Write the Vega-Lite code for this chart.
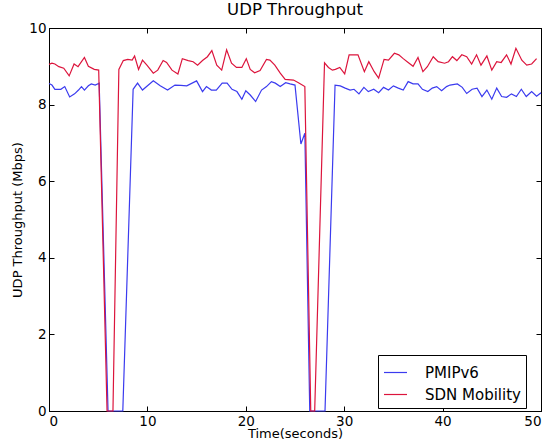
{
  "$schema": "https://vega.github.io/schema/vega-lite/v6.json",
  "width": 492,
  "height": 383,
  "autosize": {"type": "none"},
  "padding": {"left": 49, "top": 28, "right": 10, "bottom": 30},
  "background": "white",
  "title": {"text": "UDP Throughput", "font": "DejaVu Sans", "fontSize": 16.5, "fontWeight": "normal", "color": "black", "offset": 3},
  "config": {
    "view": {"stroke": "black", "strokeWidth": 1},
    "axis": {"grid": false, "domainColor": "black", "tickColor": "black", "labelColor": "black", "titleColor": "black", "labelFont": "DejaVu Sans", "titleFont": "DejaVu Sans", "labelFontSize": 13.5, "titleFontSize": 13, "titleFontWeight": "normal", "tickSize": -5}
  },
  "datasets": {
    "series": [
      {"t": 0, "v": 8.55, "s": "PMIPv6"}, {"t": 0.3, "v": 8.51, "s": "PMIPv6"}, {"t": 0.6, "v": 8.4, "s": "PMIPv6"}, {"t": 1.2, "v": 8.4, "s": "PMIPv6"}, {"t": 1.6, "v": 8.47, "s": "PMIPv6"}, {"t": 2.1, "v": 8.2, "s": "PMIPv6"}, {"t": 2.6, "v": 8.28, "s": "PMIPv6"}, {"t": 3.0, "v": 8.38, "s": "PMIPv6"}, {"t": 3.3, "v": 8.47, "s": "PMIPv6"}, {"t": 3.6, "v": 8.38, "s": "PMIPv6"}, {"t": 4.0, "v": 8.49, "s": "PMIPv6"}, {"t": 4.3, "v": 8.54, "s": "PMIPv6"}, {"t": 4.7, "v": 8.51, "s": "PMIPv6"}, {"t": 5.1, "v": 8.56, "s": "PMIPv6"}, {"t": 6.0, "v": 0, "s": "PMIPv6"}, {"t": 7.5, "v": 0, "s": "PMIPv6"}, {"t": 8.55, "v": 8.4, "s": "PMIPv6"}, {"t": 9.0, "v": 8.56, "s": "PMIPv6"}, {"t": 9.5, "v": 8.38, "s": "PMIPv6"}, {"t": 10.1, "v": 8.51, "s": "PMIPv6"}, {"t": 10.6, "v": 8.62, "s": "PMIPv6"}, {"t": 11.3, "v": 8.49, "s": "PMIPv6"}, {"t": 12.05, "v": 8.38, "s": "PMIPv6"}, {"t": 12.8, "v": 8.51, "s": "PMIPv6"}, {"t": 13.4, "v": 8.5, "s": "PMIPv6"}, {"t": 14.0, "v": 8.49, "s": "PMIPv6"}, {"t": 15.0, "v": 8.62, "s": "PMIPv6"}, {"t": 15.6, "v": 8.34, "s": "PMIPv6"}, {"t": 16.0, "v": 8.47, "s": "PMIPv6"}, {"t": 16.5, "v": 8.38, "s": "PMIPv6"}, {"t": 17.0, "v": 8.38, "s": "PMIPv6"}, {"t": 17.6, "v": 8.56, "s": "PMIPv6"}, {"t": 18.1, "v": 8.56, "s": "PMIPv6"}, {"t": 18.6, "v": 8.4, "s": "PMIPv6"}, {"t": 19.1, "v": 8.34, "s": "PMIPv6"}, {"t": 19.6, "v": 8.14, "s": "PMIPv6"}, {"t": 20.0, "v": 8.36, "s": "PMIPv6"}, {"t": 20.45, "v": 8.25, "s": "PMIPv6"}, {"t": 21.0, "v": 8.08, "s": "PMIPv6"}, {"t": 21.6, "v": 8.38, "s": "PMIPv6"}, {"t": 22.1, "v": 8.47, "s": "PMIPv6"}, {"t": 22.6, "v": 8.6, "s": "PMIPv6"}, {"t": 23.0, "v": 8.56, "s": "PMIPv6"}, {"t": 23.5, "v": 8.47, "s": "PMIPv6"}, {"t": 24.05, "v": 8.57, "s": "PMIPv6"}, {"t": 24.5, "v": 8.54, "s": "PMIPv6"}, {"t": 25.0, "v": 8.51, "s": "PMIPv6"}, {"t": 25.6, "v": 6.97, "s": "PMIPv6"}, {"t": 26.0, "v": 7.25, "s": "PMIPv6"}, {"t": 26.5, "v": 0, "s": "PMIPv6"}, {"t": 28.05, "v": 0, "s": "PMIPv6"}, {"t": 29.07, "v": 8.51, "s": "PMIPv6"}, {"t": 29.6, "v": 8.49, "s": "PMIPv6"}, {"t": 30.1, "v": 8.43, "s": "PMIPv6"}, {"t": 30.6, "v": 8.38, "s": "PMIPv6"}, {"t": 31.0, "v": 8.4, "s": "PMIPv6"}, {"t": 31.5, "v": 8.28, "s": "PMIPv6"}, {"t": 32.0, "v": 8.45, "s": "PMIPv6"}, {"t": 32.45, "v": 8.34, "s": "PMIPv6"}, {"t": 33.0, "v": 8.4, "s": "PMIPv6"}, {"t": 33.5, "v": 8.31, "s": "PMIPv6"}, {"t": 34.0, "v": 8.45, "s": "PMIPv6"}, {"t": 34.5, "v": 8.38, "s": "PMIPv6"}, {"t": 35.0, "v": 8.49, "s": "PMIPv6"}, {"t": 35.5, "v": 8.43, "s": "PMIPv6"}, {"t": 36.0, "v": 8.38, "s": "PMIPv6"}, {"t": 36.5, "v": 8.6, "s": "PMIPv6"}, {"t": 37.0, "v": 8.54, "s": "PMIPv6"}, {"t": 37.5, "v": 8.54, "s": "PMIPv6"}, {"t": 37.95, "v": 8.4, "s": "PMIPv6"}, {"t": 38.5, "v": 8.34, "s": "PMIPv6"}, {"t": 38.95, "v": 8.43, "s": "PMIPv6"}, {"t": 39.4, "v": 8.47, "s": "PMIPv6"}, {"t": 39.9, "v": 8.36, "s": "PMIPv6"}, {"t": 40.4, "v": 8.47, "s": "PMIPv6"}, {"t": 40.75, "v": 8.51, "s": "PMIPv6"}, {"t": 41.5, "v": 8.54, "s": "PMIPv6"}, {"t": 42.0, "v": 8.45, "s": "PMIPv6"}, {"t": 42.45, "v": 8.29, "s": "PMIPv6"}, {"t": 43.0, "v": 8.4, "s": "PMIPv6"}, {"t": 43.5, "v": 8.43, "s": "PMIPv6"}, {"t": 44.0, "v": 8.21, "s": "PMIPv6"}, {"t": 44.5, "v": 8.38, "s": "PMIPv6"}, {"t": 45.0, "v": 8.14, "s": "PMIPv6"}, {"t": 45.5, "v": 8.43, "s": "PMIPv6"}, {"t": 46.0, "v": 8.21, "s": "PMIPv6"}, {"t": 46.5, "v": 8.19, "s": "PMIPv6"}, {"t": 47.0, "v": 8.28, "s": "PMIPv6"}, {"t": 47.5, "v": 8.21, "s": "PMIPv6"}, {"t": 48.0, "v": 8.4, "s": "PMIPv6"}, {"t": 48.5, "v": 8.21, "s": "PMIPv6"}, {"t": 49.05, "v": 8.34, "s": "PMIPv6"}, {"t": 49.55, "v": 8.22, "s": "PMIPv6"}, {"t": 50.0, "v": 8.31, "s": "PMIPv6"},
      {"t": 0, "v": 9.05, "s": "SDN Mobility"}, {"t": 0.3, "v": 9.08, "s": "SDN Mobility"}, {"t": 0.6, "v": 9.06, "s": "SDN Mobility"}, {"t": 1.0, "v": 8.99, "s": "SDN Mobility"}, {"t": 1.5, "v": 8.95, "s": "SDN Mobility"}, {"t": 2.05, "v": 8.75, "s": "SDN Mobility"}, {"t": 2.55, "v": 9.06, "s": "SDN Mobility"}, {"t": 2.95, "v": 8.99, "s": "SDN Mobility"}, {"t": 3.6, "v": 9.23, "s": "SDN Mobility"}, {"t": 4.0, "v": 9.0, "s": "SDN Mobility"}, {"t": 4.6, "v": 8.92, "s": "SDN Mobility"}, {"t": 5.05, "v": 8.9, "s": "SDN Mobility"}, {"t": 5.9, "v": 0, "s": "SDN Mobility"}, {"t": 6.5, "v": 0, "s": "SDN Mobility"}, {"t": 7.1, "v": 8.92, "s": "SDN Mobility"}, {"t": 7.55, "v": 9.15, "s": "SDN Mobility"}, {"t": 8.0, "v": 9.18, "s": "SDN Mobility"}, {"t": 8.45, "v": 9.16, "s": "SDN Mobility"}, {"t": 8.7, "v": 9.27, "s": "SDN Mobility"}, {"t": 9.1, "v": 8.92, "s": "SDN Mobility"}, {"t": 9.5, "v": 9.16, "s": "SDN Mobility"}, {"t": 9.95, "v": 9.03, "s": "SDN Mobility"}, {"t": 10.6, "v": 8.82, "s": "SDN Mobility"}, {"t": 11.05, "v": 8.9, "s": "SDN Mobility"}, {"t": 11.6, "v": 9.15, "s": "SDN Mobility"}, {"t": 11.95, "v": 9.1, "s": "SDN Mobility"}, {"t": 12.5, "v": 8.9, "s": "SDN Mobility"}, {"t": 13.1, "v": 8.8, "s": "SDN Mobility"}, {"t": 13.55, "v": 9.2, "s": "SDN Mobility"}, {"t": 14.15, "v": 9.15, "s": "SDN Mobility"}, {"t": 14.65, "v": 9.12, "s": "SDN Mobility"}, {"t": 15.1, "v": 9.03, "s": "SDN Mobility"}, {"t": 15.6, "v": 9.15, "s": "SDN Mobility"}, {"t": 16.1, "v": 9.25, "s": "SDN Mobility"}, {"t": 16.55, "v": 9.41, "s": "SDN Mobility"}, {"t": 17.05, "v": 9.03, "s": "SDN Mobility"}, {"t": 17.55, "v": 8.9, "s": "SDN Mobility"}, {"t": 18.05, "v": 9.43, "s": "SDN Mobility"}, {"t": 18.55, "v": 9.08, "s": "SDN Mobility"}, {"t": 19.05, "v": 8.97, "s": "SDN Mobility"}, {"t": 19.6, "v": 8.97, "s": "SDN Mobility"}, {"t": 20.05, "v": 9.2, "s": "SDN Mobility"}, {"t": 20.45, "v": 8.92, "s": "SDN Mobility"}, {"t": 20.9, "v": 8.83, "s": "SDN Mobility"}, {"t": 21.45, "v": 8.89, "s": "SDN Mobility"}, {"t": 22.1, "v": 9.18, "s": "SDN Mobility"}, {"t": 22.45, "v": 9.16, "s": "SDN Mobility"}, {"t": 22.95, "v": 9.03, "s": "SDN Mobility"}, {"t": 23.5, "v": 8.82, "s": "SDN Mobility"}, {"t": 24.0, "v": 8.66, "s": "SDN Mobility"}, {"t": 24.85, "v": 8.64, "s": "SDN Mobility"}, {"t": 25.35, "v": 8.57, "s": "SDN Mobility"}, {"t": 26.0, "v": 8.47, "s": "SDN Mobility"}, {"t": 26.6, "v": 0, "s": "SDN Mobility"}, {"t": 27.0, "v": 0, "s": "SDN Mobility"}, {"t": 28.0, "v": 9.09, "s": "SDN Mobility"}, {"t": 28.4, "v": 8.97, "s": "SDN Mobility"}, {"t": 28.8, "v": 8.9, "s": "SDN Mobility"}, {"t": 29.1, "v": 8.92, "s": "SDN Mobility"}, {"t": 29.55, "v": 8.97, "s": "SDN Mobility"}, {"t": 30.05, "v": 8.8, "s": "SDN Mobility"}, {"t": 30.5, "v": 9.3, "s": "SDN Mobility"}, {"t": 31.4, "v": 9.3, "s": "SDN Mobility"}, {"t": 32.05, "v": 8.86, "s": "SDN Mobility"}, {"t": 32.5, "v": 9.12, "s": "SDN Mobility"}, {"t": 33.05, "v": 8.86, "s": "SDN Mobility"}, {"t": 33.5, "v": 8.69, "s": "SDN Mobility"}, {"t": 34.05, "v": 9.18, "s": "SDN Mobility"}, {"t": 34.5, "v": 9.16, "s": "SDN Mobility"}, {"t": 35.1, "v": 9.34, "s": "SDN Mobility"}, {"t": 35.55, "v": 9.3, "s": "SDN Mobility"}, {"t": 36.0, "v": 9.2, "s": "SDN Mobility"}, {"t": 36.5, "v": 9.1, "s": "SDN Mobility"}, {"t": 37.0, "v": 9.0, "s": "SDN Mobility"}, {"t": 37.5, "v": 9.23, "s": "SDN Mobility"}, {"t": 38.0, "v": 8.86, "s": "SDN Mobility"}, {"t": 38.45, "v": 8.99, "s": "SDN Mobility"}, {"t": 39.05, "v": 9.25, "s": "SDN Mobility"}, {"t": 39.55, "v": 9.12, "s": "SDN Mobility"}, {"t": 40.2, "v": 9.08, "s": "SDN Mobility"}, {"t": 40.6, "v": 9.12, "s": "SDN Mobility"}, {"t": 41.0, "v": 9.25, "s": "SDN Mobility"}, {"t": 41.45, "v": 9.15, "s": "SDN Mobility"}, {"t": 41.95, "v": 9.3, "s": "SDN Mobility"}, {"t": 42.45, "v": 9.25, "s": "SDN Mobility"}, {"t": 42.95, "v": 9.06, "s": "SDN Mobility"}, {"t": 43.45, "v": 9.3, "s": "SDN Mobility"}, {"t": 43.9, "v": 9.03, "s": "SDN Mobility"}, {"t": 44.5, "v": 9.27, "s": "SDN Mobility"}, {"t": 45.0, "v": 8.9, "s": "SDN Mobility"}, {"t": 45.5, "v": 9.12, "s": "SDN Mobility"}, {"t": 45.95, "v": 9.1, "s": "SDN Mobility"}, {"t": 46.5, "v": 9.3, "s": "SDN Mobility"}, {"t": 46.95, "v": 9.06, "s": "SDN Mobility"}, {"t": 47.45, "v": 9.47, "s": "SDN Mobility"}, {"t": 48.05, "v": 9.16, "s": "SDN Mobility"}, {"t": 48.55, "v": 9.03, "s": "SDN Mobility"}, {"t": 49.05, "v": 9.06, "s": "SDN Mobility"}, {"t": 49.55, "v": 9.2, "s": "SDN Mobility"}
    ]
  },
  "data": {"name": "series"},
  "layer": [
    {
      "mark": {"type": "line", "strokeWidth": 1.2},
      "encoding": {
        "x": {"field": "t", "type": "quantitative", "scale": {"domain": [0, 50], "nice": false, "zero": false}, "axis": {"orient": "bottom", "title": "Time(seconds)", "values": [0, 10, 20, 30, 40, 50], "labelPadding": 8, "titlePadding": 0}},
        "y": {"field": "v", "type": "quantitative", "scale": {"domain": [0, 10], "nice": false}, "axis": {"orient": "left", "title": "UDP Throughput (Mbps)", "values": [0, 2, 4, 6, 8, 10], "labelPadding": 8, "titlePadding": 4}},
        "color": {"field": "s", "type": "nominal", "scale": {"domain": ["PMIPv6", "SDN Mobility"], "range": ["#3b3bef", "#dc143c"]},
          "legend": {"title": null, "orient": "none", "legendX": 329, "legendY": 327, "strokeColor": "black", "fillColor": "white", "padding": 5, "symbolType": "stroke", "symbolSize": 529, "symbolStrokeWidth": 1.2, "labelFontSize": 15, "labelFont": "DejaVu Sans", "labelColor": "black", "labelOffset": 17, "rowPadding": 1, "cornerRadius": 0}}
      }
    },
    {
      "mark": {"type": "line", "opacity": 0},
      "encoding": {
        "x": {"field": "t", "type": "quantitative", "scale": {"domain": [0, 50], "nice": false, "zero": false}, "axis": {"orient": "top", "title": null, "labels": false, "values": [0, 10, 20, 30, 40, 50]}},
        "y": {"field": "v", "type": "quantitative", "scale": {"domain": [0, 10], "nice": false}, "axis": {"orient": "right", "title": null, "labels": false, "values": [0, 2, 4, 6, 8, 10]}},
        "detail": {"field": "s"}
      }
    }
  ],
  "resolve": {"axis": {"x": "independent", "y": "independent"}}
}
